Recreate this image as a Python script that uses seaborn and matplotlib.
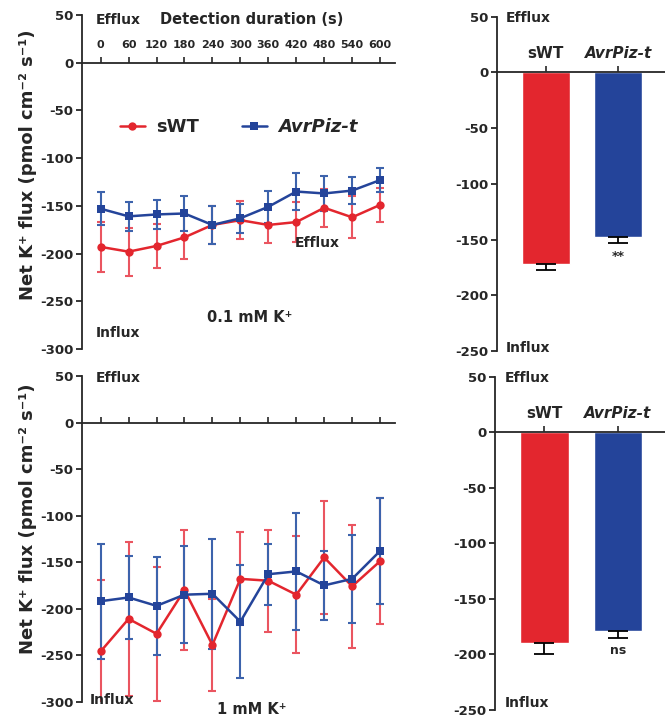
import numpy as np
import matplotlib
matplotlib.use("Agg")
import matplotlib.pyplot as plt
import seaborn as sns

# time course, 0.1 mM K+ and 1 mM K+
time_s = [0, 60, 120, 180, 240, 300, 360, 420, 480, 540, 600]

low_swt_mean = [-193, -198, -192, -183, -170, -165, -170, -167, -152, -162, -149]
low_swt_sd = [26, 25, 23, 23, 20, 20, 19, 21, 20, 22, 18]
low_avr_mean = [-153, -161, -159, -158, -170, -163, -151, -135, -137, -134, -123]
low_avr_sd = [17, 15, 15, 18, 20, 15, 17, 19, 18, 14, 13]

high_swt_mean = [-246, -211, -227, -180, -239, -168, -170, -185, -145, -176, -149]
high_swt_sd = [77, 83, 72, 64, 49, 50, 55, 63, 61, 66, 68]
high_avr_mean = [-192, -188, -197, -185, -184, -214, -163, -160, -175, -168, -138]
high_avr_sd = [62, 45, 53, 52, 59, 61, 33, 63, 37, 47, 57]

# mean flux bars
genotypes = ["sWT", "AvrPiz-t"]
low_bar_mean = [-172, -148]
low_bar_sem = [5, 5]
high_bar_mean = [-190, -179]
high_bar_sem = [10, 6]
low_sig = "**"
high_sig = "ns"

red = "#E3262E"
blue = "#24449A"
red_err = "#EA5560"
blue_err = "#3D63AC"

sns.set_style("ticks")
plt.rcParams["font.family"] = ["DejaVu Sans"]
plt.rcParams["font.weight"] = "bold"
plt.rcParams["axes.linewidth"] = 1.3
plt.rcParams["axes.unicode_minus"] = False

W, H = 665, 721
fig = plt.figure(figsize=(W / 100, H / 100), dpi=100)


def ftext(x, y, s, size=10, ha="left", **kw):
    fig.text(x / W, 1 - y / H, s, fontsize=size, ha=ha, va="center",
             fontweight="bold", **kw)


def style_axes(ax, ymin, ymax):
    ax.set_ylim(ymin, ymax)
    ax.set_yticks(np.arange(ymin, ymax + 1, 50))
    ax.xaxis.set_ticks_position("top")
    ax.spines["top"].set_position(("data", 0))
    ax.spines["bottom"].set_visible(False)
    ax.spines["right"].set_visible(False)
    ax.tick_params(axis="y", length=4, width=1.3, labelsize=9.5, pad=2)
    ax.set_xlabel("")
    ax.set_ylabel("")


def time_panel(ax, swt_m, swt_sd, avr_m, avr_sd, show_labels):
    ax.errorbar(time_s, swt_m, yerr=swt_sd, fmt="none", ecolor=red_err,
                elinewidth=1.5, capsize=3, capthick=1.5, zorder=2)
    ax.errorbar(time_s, avr_m, yerr=avr_sd, fmt="none", ecolor=blue_err,
                elinewidth=1.5, capsize=3, capthick=1.5, zorder=2)
    sns.lineplot(x=time_s, y=swt_m, color=red, marker="o", markersize=6,
                 markeredgewidth=0, linewidth=1.8, label="sWT", ax=ax, zorder=3)
    sns.lineplot(x=time_s, y=avr_m, color=blue, marker="s", markersize=6,
                 markeredgewidth=0, linewidth=1.8, label="AvrPiz-t", ax=ax, zorder=3)
    style_axes(ax, -300, 50)
    ax.set_xlim(-40, 632)
    ax.set_xticks(time_s)
    ax.tick_params(axis="x", length=4, width=1.2, pad=5, labelsize=8,
                   labeltop=show_labels)


def bar_panel(ax, means, sems, sig):
    sns.barplot(x=genotypes, y=means, hue=genotypes, palette=[red, blue],
                saturation=1, width=0.66, legend=False, ax=ax)
    # error bars only point away from zero
    ax.errorbar([0, 1], means, yerr=[sems, [0, 0]], fmt="none",
                ecolor="black", elinewidth=1.3, capsize=7, capthick=1.3)
    style_axes(ax, -250, 50)
    ax.set_xlim(-0.67, 1.64)
    ax.tick_params(axis="x", length=4, width=1.2, pad=4, labelsize=11)
    ax.get_xticklabels()[1].set_style("italic")
    ax.text(1, means[1] - sems[1] - 6, sig, ha="center", va="top",
            fontsize=9, fontweight="bold")


ax1 = fig.add_axes([82 / W, 1 - 349 / H, 313 / W, 334 / H])
time_panel(ax1, low_swt_mean, low_swt_sd, low_avr_mean, low_avr_sd, True)
leg = ax1.legend(loc="center", bbox_to_anchor=(0.5, 0.665), ncol=2,
                 frameon=False, fontsize=13, handlelength=1.4,
                 columnspacing=2.4, handletextpad=0.6)
leg.get_texts()[1].set_style("italic")

ax2 = fig.add_axes([82 / W, 1 - 701.7 / H, 313 / W, 325.7 / H])
time_panel(ax2, high_swt_mean, high_swt_sd, high_avr_mean, high_avr_sd, False)
ax2.get_legend().remove()

ax3 = fig.add_axes([497 / W, 1 - 351 / H, 168 / W, 334.3 / H])
bar_panel(ax3, low_bar_mean, low_bar_sem, low_sig)

ax4 = fig.add_axes([495 / W, 1 - 710 / H, 170 / W, 333.3 / H])
bar_panel(ax4, high_bar_mean, high_bar_sem, high_sig)

ylab = "Net K\u207a flux (pmol cm\u207b\u00b2 s\u207b\u00b9)"
fig.text(28 / W, 1 - 165 / H, ylab, rotation=90, ha="center", va="center",
         fontsize=13, fontweight="bold")
fig.text(28 / W, 1 - 519 / H, ylab, rotation=90, ha="center", va="center",
         fontsize=13, fontweight="bold")

# annotations, top left
ftext(96, 20, "Efflux")
ftext(160, 20, "Detection duration (s)", size=10.5)
ftext(295, 243, "Efflux")
ftext(207, 317, "0.1 mM K\u207a", size=10.5)
ftext(96, 333, "Influx")
# bottom left
ftext(96, 378, "Efflux")
ftext(90, 700, "Influx")
ftext(217, 709, "1 mM K\u207a", size=10.5)
# bars
ftext(506, 18, "Efflux")
ftext(506, 348, "Influx")
ftext(505, 378, "Efflux")
ftext(505, 703, "Influx")

fig.savefig("out.png", dpi=100)
